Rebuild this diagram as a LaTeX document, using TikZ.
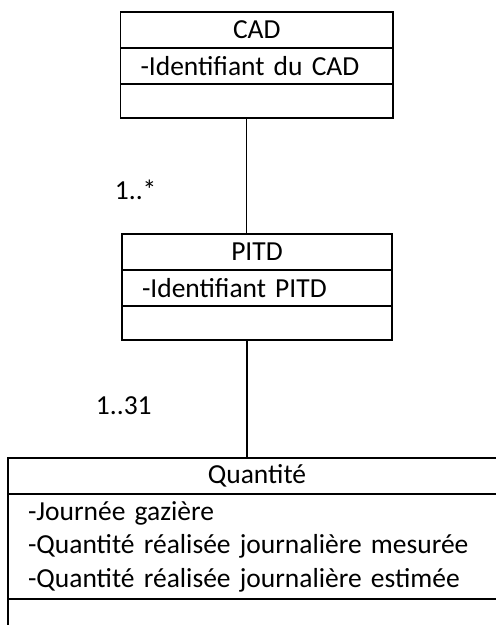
\documentclass[tikz,border=0pt]{standalone}
\usepackage{fontspec}
\setmainfont{Carlito}
\usetikzlibrary{positioning}

\begin{document}
\begin{tikzpicture}[x=1pt, y=-1pt, line width=1.4pt,
  every node/.style={outer sep=0pt},
  class name/.style={draw, minimum height=36pt, inner sep=0pt, anchor=north west,
    font=\fontsize{27.5}{30}\selectfont},
  class attr/.style={draw, minimum height=36pt, inner ysep=0pt, inner xsep=20pt,
    align=left, font=\fontsize{27.5}{33.5}\selectfont},
  class ops/.style={draw, minimum height=34pt, inner sep=0pt},
  mult/.style={font=\fontsize{27.5}{30}\selectfont}]

  \useasboundingbox (0,0) rectangle (496,625);
  \clip (0,0) rectangle (496,625);

  % CAD
  \node[class name, minimum width=272.5pt] (cad) at (120.5,12) {CAD};
  \node[class attr, text width=232.5pt, below=0pt of cad] (cadattr) {-Identifiant du CAD};
  \node[class ops, minimum width=272.5pt, below=0pt of cadattr] (cadops) {};

  % PITD
  \node[class name, minimum width=270pt] (pitd) at (122,234) {PITD};
  \node[class attr, text width=230pt, below=0pt of pitd] (pitdattr) {-Identifiant PITD};
  \node[class ops, minimum width=270pt, below=0pt of pitdattr] (pitdops) {};

  % Quantite
  \node[class name, minimum width=498pt] (quant) at (8,458) {Quantité};
  \node[class attr, text width=458pt, minimum height=105pt, below=0pt of quant] (quantattr)
    {-Journée gazière\\-Quantité réalisée journalière mesurée\\-Quantité réalisée journalière estimée};
  \node[class ops, minimum width=498pt, minimum height=40pt, below=0pt of quantattr] (quantops) {};

  % associations
  \coordinate (link1) at ([xshift=-10pt]cadops.south);
  \coordinate (link2) at ([xshift=-10pt]pitdops.south);
  \draw (link1) -- (link1 |- pitd.north) node[mult, pos=0.62, left=87pt] (m1) {1..*};
  \draw (link2) -- (link2 |- quant.north) node[mult, pos=0.56, left=92pt] (m2) {1..31};

\end{tikzpicture}
\end{document}
